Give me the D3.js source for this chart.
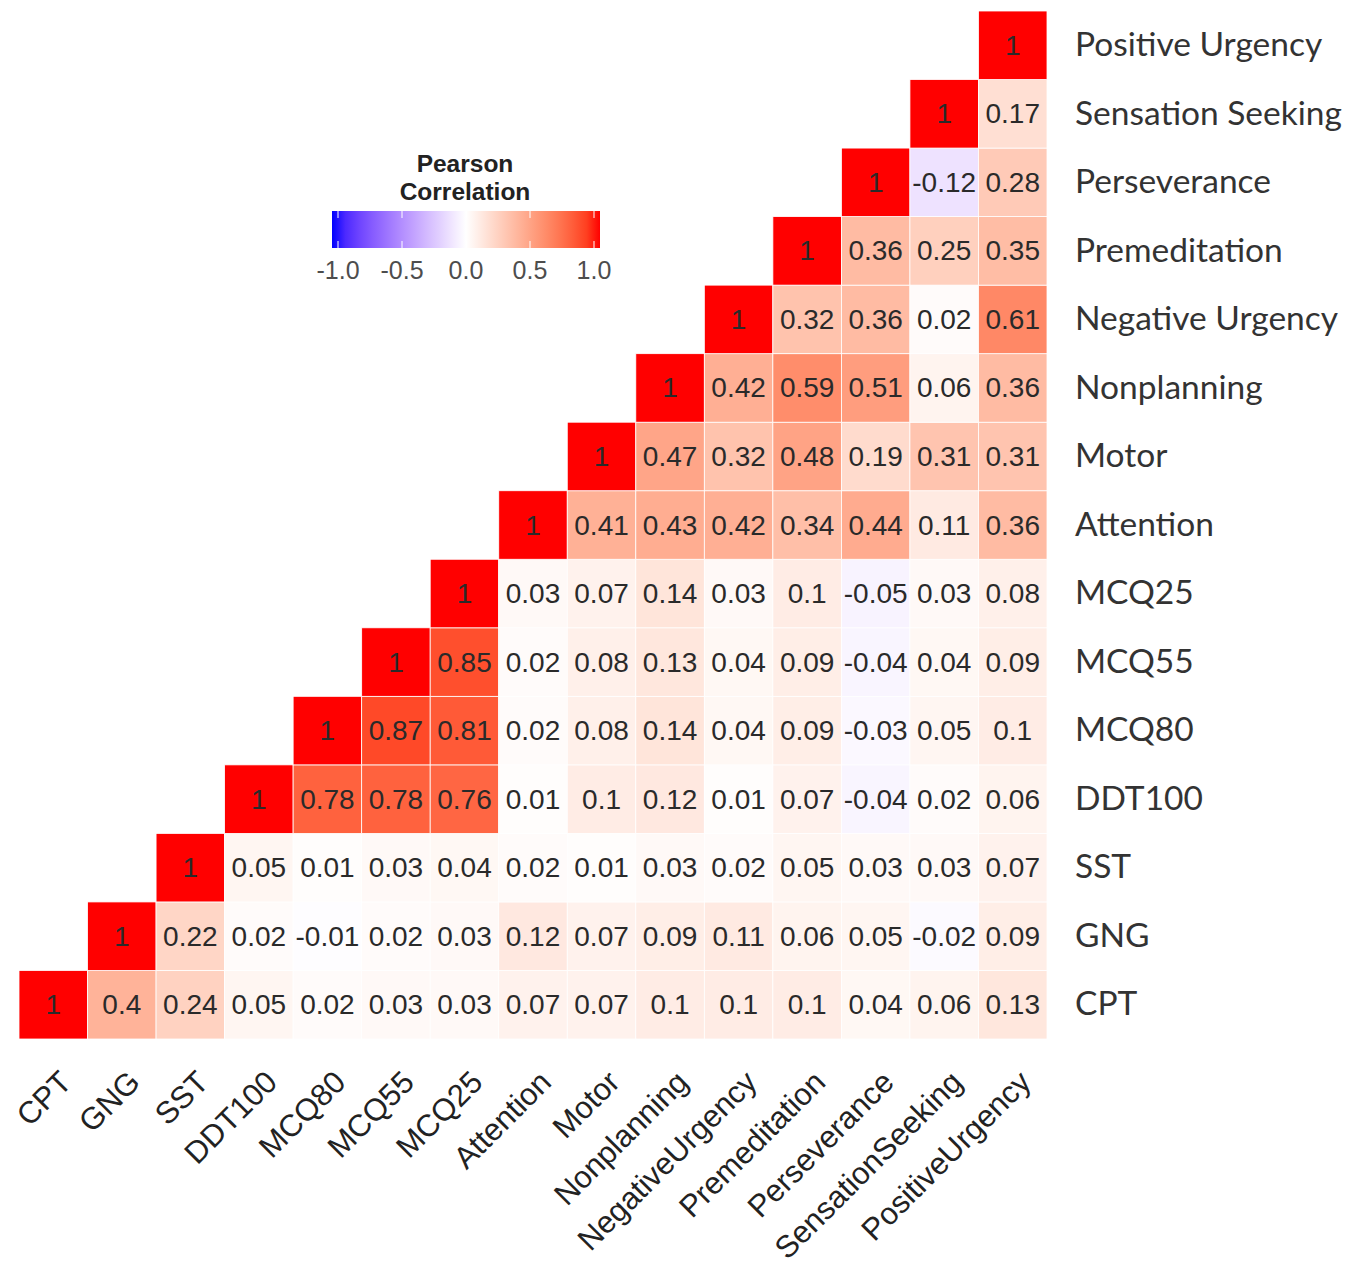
<!DOCTYPE html>
<html>
<head>
<meta charset="utf-8">
<script src="https://cdn.jsdelivr.net/npm/d3@7"></script>
<style>
  body { margin: 0; background: #fff; }
</style>
</head>
<body>
<svg width="1366" height="1267"></svg>
<script>
// variables, bottom-left to top-right
const vars = ['CPT', 'GNG', 'SST', 'DDT100', 'MCQ80', 'MCQ55', 'MCQ25', 'Attention', 'Motor',
  'Nonplanning', 'NegativeUrgency', 'Premeditation', 'Perseverance', 'SensationSeeking', 'PositiveUrgency'];

// labels shown on the right side
const rowLabels = ['CPT', 'GNG', 'SST', 'DDT100', 'MCQ80', 'MCQ55', 'MCQ25', 'Attention', 'Motor',
  'Nonplanning', 'Negative Urgency', 'Premeditation', 'Perseverance', 'Sensation Seeking', 'Positive Urgency'];

// each row starts at the diagonal and goes right
const cptRow = [1, 0.4, 0.24, 0.05, 0.02, 0.03, 0.03, 0.07, 0.07, 0.1, 0.1, 0.1, 0.04, 0.06, 0.13];
const gngRow = [1, 0.22, 0.02, -0.01, 0.02, 0.03, 0.12, 0.07, 0.09, 0.11, 0.06, 0.05, -0.02, 0.09];
const sstRow = [1, 0.05, 0.01, 0.03, 0.04, 0.02, 0.01, 0.03, 0.02, 0.05, 0.03, 0.03, 0.07];
const ddtRow = [1, 0.78, 0.78, 0.76, 0.01, 0.1, 0.12, 0.01, 0.07, -0.04, 0.02, 0.06];
const mcq80Row = [1, 0.87, 0.81, 0.02, 0.08, 0.14, 0.04, 0.09, -0.03, 0.05, 0.1];
const mcq55Row = [1, 0.85, 0.02, 0.08, 0.13, 0.04, 0.09, -0.04, 0.04, 0.09];
const mcq25Row = [1, 0.03, 0.07, 0.14, 0.03, 0.1, -0.05, 0.03, 0.08];
const attentionRow = [1, 0.41, 0.43, 0.42, 0.34, 0.44, 0.11, 0.36];
const motorRow = [1, 0.47, 0.32, 0.48, 0.19, 0.31, 0.31];
const nonplanningRow = [1, 0.42, 0.59, 0.51, 0.06, 0.36];
const negUrgencyRow = [1, 0.32, 0.36, 0.02, 0.61];
const premeditationRow = [1, 0.36, 0.25, 0.35];
const perseveranceRow = [1, -0.12, 0.28];
const sensationRow = [1, 0.17];
const posUrgencyRow = [1];

const rows = [cptRow, gngRow, sstRow, ddtRow, mcq80Row, mcq55Row, mcq25Row, attentionRow, motorRow,
  nonplanningRow, negUrgencyRow, premeditationRow, perseveranceRow, sensationRow, posUrgencyRow];

const legendTicks = [-1, -0.5, 0, 0.5, 1];

// flatten to cells
const cells = [];
rows.forEach((r, i) => {
  r.forEach((v, k) => {
    cells.push({ row: vars[i], col: vars[i + k], value: v });
  });
});

const svg = d3.select('svg');

const x = d3.scaleBand().domain(vars).range([19, 1047]);
const y = d3.scaleBand().domain(vars).range([1039, 11]);

// blue - white - red, like ggplot's gradient2
const color = d3.scaleLinear()
  .domain([-1, 0, 1])
  .range(['blue', 'white', 'red'])
  .interpolate(d3.interpolateLab);

// tiles
svg.append('g')
  .selectAll('rect')
  .data(cells)
  .join('rect')
    .attr('x', d => x(d.col))
    .attr('y', d => y(d.row))
    .attr('width', x.bandwidth())
    .attr('height', y.bandwidth())
    .attr('fill', d => color(d.value))
    .attr('stroke', 'white')
    .attr('stroke-width', 0.8);

// numbers in the tiles
svg.append('g')
  .selectAll('text')
  .data(cells)
  .join('text')
    .attr('x', d => x(d.col) + x.bandwidth() / 2)
    .attr('y', d => y(d.row) + y.bandwidth() / 2)
    .attr('text-anchor', 'middle')
    .attr('dominant-baseline', 'central')
    .attr('font-family', 'Liberation Sans, Arial, sans-serif')
    .attr('font-size', 28)
    .attr('fill', '#2a2a2a')
    .text(d => String(d.value));

// right axis labels
const yAxis = svg.append('g')
  .attr('transform', 'translate(1047,0)')
  .call(d3.axisRight(y).tickSize(0).tickPadding(28).tickFormat((d, i) => rowLabels[i]));
yAxis.select('.domain').remove();
yAxis.selectAll('text')
  .attr('font-family', 'Lato, sans-serif')
  .attr('font-size', 33.5)
  .attr('fill', '#333');

// bottom axis labels, rotated
const xAxis = svg.append('g')
  .attr('transform', 'translate(0,1039)')
  .call(d3.axisBottom(x).tickSize(0).tickFormat(d => d));
xAxis.select('.domain').remove();
xAxis.selectAll('text')
  .attr('font-family', 'Liberation Sans, Arial, sans-serif')
  .attr('font-size', 31)
  .attr('fill', '#222')
  .attr('text-anchor', 'end')
  .attr('dy', 0)
  .attr('y', 0)
  .attr('transform', 'translate(20,45) rotate(-45)');

// legend
const legendX = d3.scaleLinear().domain([-1, 1]).range([338, 594]);
const defs = svg.append('defs');
const grad = defs.append('linearGradient')
  .attr('id', 'corrGrad')
  .attr('x1', '0%').attr('x2', '100%');
d3.range(0, 1.0001, 0.05).forEach(t => {
  grad.append('stop')
    .attr('offset', `${t * 100}%`)
    .attr('stop-color', color(-1 + 2 * t));
});

const legend = svg.append('g');
legend.append('rect')
  .attr('x', 332).attr('y', 211)
  .attr('width', 268).attr('height', 37)
  .attr('fill', 'url(#corrGrad)');

legend.selectAll('line.top')
  .data(legendTicks)
  .join('line')
    .attr('x1', d => legendX(d)).attr('x2', d => legendX(d))
    .attr('y1', 211).attr('y2', 218)
    .attr('stroke', 'white').attr('stroke-width', 1);
legend.selectAll('line.bot')
  .data(legendTicks)
  .join('line')
    .attr('class', 'bot')
    .attr('x1', d => legendX(d)).attr('x2', d => legendX(d))
    .attr('y1', 241).attr('y2', 248)
    .attr('stroke', 'white').attr('stroke-width', 1);

legend.selectAll('text.tick')
  .data(legendTicks)
  .join('text')
    .attr('class', 'tick')
    .attr('x', d => legendX(d))
    .attr('y', 279)
    .attr('text-anchor', 'middle')
    .attr('font-family', 'Liberation Sans, Arial, sans-serif')
    .attr('font-size', 25)
    .attr('fill', '#4d4d4d')
    .text(d => d3.format('.1f')(d).replace('−', '-'));

legend.append('text')
  .attr('x', 465).attr('y', 172)
  .attr('text-anchor', 'middle')
  .attr('font-family', 'Liberation Sans, Arial, sans-serif')
  .attr('font-weight', 'bold')
  .attr('font-size', 24.5)
  .attr('fill', '#222')
  .text('Pearson');
legend.append('text')
  .attr('x', 465).attr('y', 200)
  .attr('text-anchor', 'middle')
  .attr('font-family', 'Liberation Sans, Arial, sans-serif')
  .attr('font-weight', 'bold')
  .attr('font-size', 24.5)
  .attr('fill', '#222')
  .text('Correlation');
</script>
</body>
</html>
